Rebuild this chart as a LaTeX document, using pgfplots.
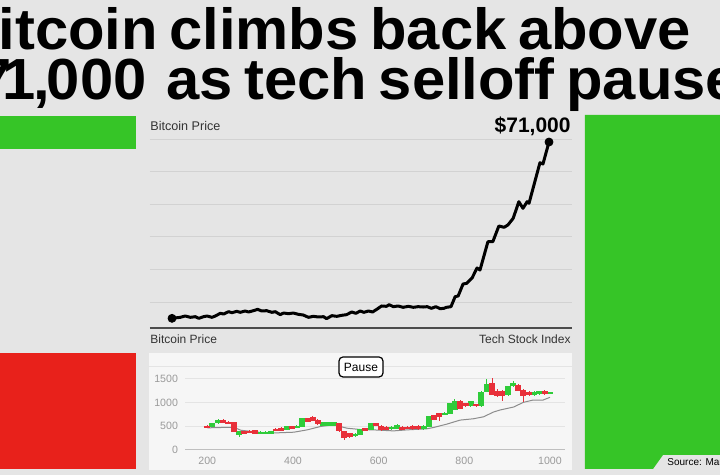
\documentclass[border=0pt]{standalone}
\usepackage{fontspec}
\setmainfont{Liberation Sans}
\newfontfamily\titlefont{Liberation Sans}[FakeStretch=1.03]
\usepackage{pgfplots}
\pgfplotsset{compat=1.18}
\usepackage{pgfplotstable}

\definecolor{bg}{HTML}{E5E5E5}
\definecolor{panel}{HTML}{F6F6F6}
\definecolor{bgreen}{HTML}{36C527}
\definecolor{bred}{HTML}{E8211B}
\definecolor{cgreen}{HTML}{2FCC3A}
\definecolor{cred}{HTML}{E8303A}
\definecolor{gridc}{HTML}{D2D2D2}
\definecolor{lgrid}{HTML}{E4E4E4}
\definecolor{tickc}{HTML}{9A9A9A}
\definecolor{labc}{HTML}{333333}

% candles: x open close high low
\pgfplotstableread{
x o c h l
212 490 560 570 480
225 560 640 650 550
274 320 400 410 280
323 340 385 395 330
335 345 385 395 330
348 340 400 410 330
385 425 505 515 420
409 460 515 525 455
422 495 670 680 490
471 510 580 590 500
483 510 580 590 500
495 510 580 590 500
545 290 345 355 280
557 320 440 450 310
582 425 560 570 420
631 440 495 505 430
643 445 530 545 440
705 440 510 520 430
717 495 710 720 490
754 740 790 800 730
766 760 985 995 750
778 850 1040 1080 840
815 920 1025 1035 910
840 920 1225 1235 910
852 1225 1395 1500 1215
902 1155 1345 1355 1145
914 1345 1410 1465 1335
963 1155 1225 1235 1145
975 1180 1240 1250 1170
1000 1180 1220 1230 1175
}\greencandles

\pgfplotstableread{
x o c h l
200 510 470 520 460
237 640 570 660 560
249 590 560 620 540
262 580 380 590 370
286 400 340 410 330
298 400 360 420 350
311 420 340 430 330
360 445 395 455 390
372 465 410 475 400
397 500 450 510 440
434 665 600 675 590
446 690 620 720 610
458 640 545 650 530
508 565 390 575 380
520 390 260 400 210
532 355 270 365 260
569 460 400 470 390
594 560 515 570 510
606 510 420 520 410
618 495 425 505 415
655 495 425 505 420
668 495 445 505 440
680 510 440 520 430
692 510 440 520 430
729 730 640 740 630
742 780 690 790 620
791 1040 870 1050 860
803 990 920 1000 910
828 970 920 980 910
865 1415 1165 1510 1155
877 1250 1130 1290 1120
889 1250 1130 1260 1025
926 1380 1250 1390 1240
938 1275 1130 1285 1010
951 1225 1155 1235 1145
988 1240 1180 1260 1170
}\redcandles

\pgfplotsset{
  candle/.style={only marks, mark size=0pt, mark options={draw opacity=0, fill opacity=0},
    error bars/.cd, y dir=both, y explicit, error mark=none},
}

\begin{document}
\begin{tikzpicture}
\useasboundingbox (0,0) rectangle (360pt,-237.5pt);
\clip (0,0) rectangle (360pt,-237.5pt);

\begin{scope}[x=0.5pt,y=-0.5pt]
\fill[bg] (-2,-2) rectangle (722,477);
% colour blocks
\fill[bgreen] (-2,116) rectangle (136,149);
\fill[bred] (-2,353) rectangle (136,469);
\fill[bgreen] (585,115) -- (722,115) -- (722,455) -- (663,455) -- (653,469) -- (585,469) -- cycle;
\node[anchor=base west, inner sep=0, font=\fontsize{5}{6}\selectfont, text=black] at (667,466) {Source: MarketWatch};

% title
\tikzset{ttl/.style={inner sep=0, font={\titlefont\fontsize{29}{30}\selectfont\bfseries\spaceskip=0.2em\relax}}}
\node[ttl, anchor=base west] at (-45,50) {Bitcoin climbs back above};
\node[ttl, anchor=base east] at (147,100) {\$7\kern-0.16em 1\kern-0.05em,\kern-0.05em 000};
\node[ttl, anchor=base west] at (166,100) {as tech selloff pauses};

% labels of top chart
\node[anchor=base west, inner sep=0, font=\fontsize{6.3}{7}\selectfont, text=labc] at (150,131) {Bitcoin Price};
\node[anchor=base east, inner sep=0, font=\fontsize{10.5}{12}\selectfont\bfseries] at (571,133) {\$71,000};

% lower panel
\node[anchor=base west, inner sep=0, font=\fontsize{6}{7}\selectfont, text=labc] at (150,344) {Bitcoin Price};
\node[anchor=base east, inner sep=0, font=\fontsize{6}{7}\selectfont, text=labc] at (571,344) {Tech Stock Index};
\fill[panel] (149,353) rectangle (572,470);
\draw[lgrid, line width=0.5pt] (149,367) -- (572,367);
\end{scope}

% top chart
\begin{axis}[
  at={(75pt,-164pt)}, anchor=south west,
  scale only axis, width=211pt, height=94.5pt,
  xmin=-5.84, xmax=106.1, ymin=0, ymax=72150,
  axis line style={draw=none},
  xtick=\empty, ytick={9900,22350,34800,47250,59700,72150},
  yticklabels={}, major tick length=0,
  scaled y ticks=false,
  ymajorgrids, grid style={color=gridc, line width=0.45pt},
  clip=false,
]
\draw[color=black!70, line width=1pt] (rel axis cs:0,0) -- (rel axis cs:1,0);
\addplot[black, line width=1.5pt, line join=round] coordinates {
(0,3690)(2.2,4070)(3.5,4580)(4.9,4070)(6.2,4320)(7.1,3690)(8.4,4320)(9.3,4580)
(10.6,4070)(11.5,4580)(12.8,5600)(13.7,5340)(15.0,6230)(15.9,5850)(17.2,6360)
(18.1,5980)(19.4,6490)(20.3,6110)(21.6,6610)(22.7,7120)(23.8,6490)(25.1,6610)
(26.5,5980)(27.4,6230)(28.7,5090)(29.6,5720)(30.9,5470)(32.2,5720)(33.5,5220)
(34.8,4960)(36.2,4070)(37.5,4450)(38.8,4200)(40.2,4320)(41.0,3560)(42.4,4710)
(43.7,4450)(45.0,4830)(46.3,5090)(47.7,6110)(48.8,5600)(49.9,6490)(50.9,5980)
(52.1,6490)(53.2,6110)(54.3,7120)(55.6,8400)(56.9,8270)(57.6,8900)(58.7,8140)
(60.0,8400)(61.3,7890)(62.7,8270)(64.0,7890)(65.3,8140)(66.6,8010)(67.7,8140)
(68.8,7500)(70.0,8140)(71.1,7380)(72.1,7500)(72.8,7890)(74.0,8140)(75.1,11950)
(75.9,12210)(77.2,16790)(78.2,17060)(79.6,19090)(80.9,22900)(81.7,22140)
(83.8,32940)(85.1,32940)(86.7,38930)(88.1,38440)(89.1,39320)(90.5,41870)
(92.0,48210)(93.1,45690)(94.2,48210)(94.7,47600)(97.6,63100)(98.4,62600)(100,71000)
};
\addplot[only marks, mark=*, mark size=2pt, black] coordinates {(0,3690)(100,71000)};
\end{axis}

% candlestick chart
\begin{axis}[
  at={(92.5pt,-225pt)}, anchor=south west,
  scale only axis, width=190pt, height=41.5pt,
  xmin=148, xmax=1035, ymin=0, ymax=1750,
  axis line style={draw=none},
  xtick={200,400,600,800,1000}, ytick={0,500,1000,1500},
  major tick length=0,
  ymajorgrids, grid style={color=lgrid, line width=0.5pt},
  tick label style={font=\fontsize{5.3}{6}\selectfont, text=tickc},
  /pgf/number format/assume math mode=true,
  /pgf/number format/1000 sep={},
  clip=false,
]
\draw[color=black!25, line width=0.5pt] (rel axis cs:0,0) -- (rel axis cs:1,0);
\addplot[color=black!45, line width=0.5pt] coordinates {
(200,467)(262,481)(278,417)(340,354)(402,375)(433,424)(464,495)(495,531)(526,460)
(557,432)(588,424)(635,403)(666,424)(712,446)(728,474)(759,545)(790,630)(821,658)
(845,700)(868,800)(883,842)(915,906)(938,1005)(961,1054)(984,1054)(1000,1111)
};
% wicks
\addplot[cgreen, candle, error bar style={line width=0.45pt}]
  table[x=x, y expr=(\thisrow{h}+\thisrow{l})/2, y error expr=(\thisrow{h}-\thisrow{l})/2] {\greencandles};
\addplot[cred, candle, error bar style={line width=0.45pt}]
  table[x=x, y expr=(\thisrow{h}+\thisrow{l})/2, y error expr=(\thisrow{h}-\thisrow{l})/2] {\redcandles};
% bodies
\addplot[cgreen, candle, error bar style={line width=3pt}]
  table[x=x, y expr=(\thisrow{o}+\thisrow{c})/2, y error expr=abs(\thisrow{c}-\thisrow{o})/2] {\greencandles};
\addplot[cred, candle, error bar style={line width=3pt}]
  table[x=x, y expr=(\thisrow{o}+\thisrow{c})/2, y error expr=abs(\thisrow{c}-\thisrow{o})/2] {\redcandles};
\end{axis}

\begin{scope}[x=0.5pt,y=-0.5pt]
\node[draw=black, line width=0.6pt, rounded corners=2pt, fill=white, inner sep=0,
  minimum width=22pt, minimum height=10pt, font=\fontsize{6}{7}\selectfont] at (361,367) {Pause};
\end{scope}
\end{tikzpicture}
\end{document}
